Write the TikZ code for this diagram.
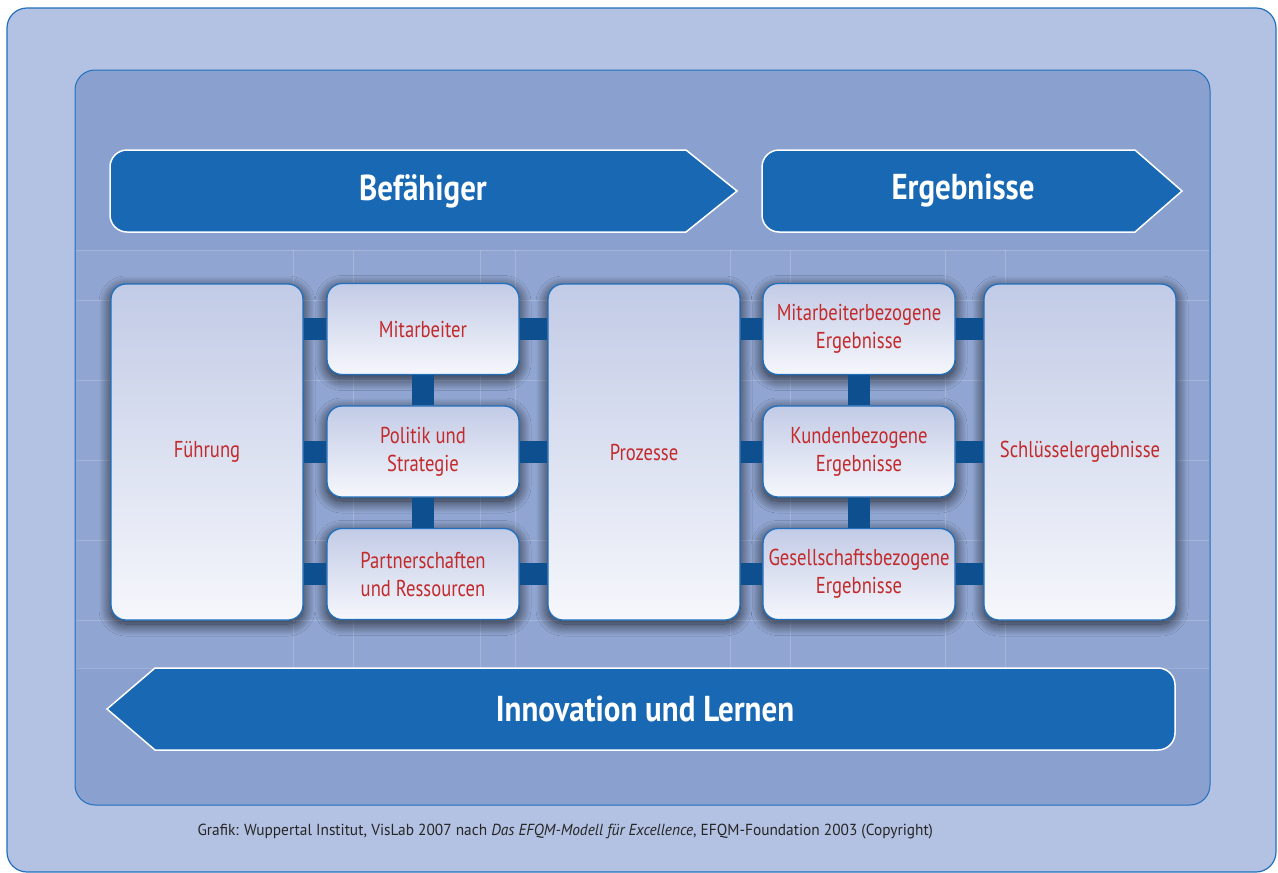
\documentclass[tikz,border=0pt]{standalone}
\usepackage{fontspec}
\setmainfont{PT Sans}
\newfontfamily\labfont{PT Sans}[FakeStretch=0.81]
\newfontfamily\headfont{PT Sans}[FakeStretch=0.86]
\newfontfamily\footfont{PT Sans}[FakeStretch=0.96]
\usetikzlibrary{shadows.blur}
\definecolor{outerbg}{HTML}{B3C1E2}
\definecolor{innerbg}{HTML}{8AA0CF}
\definecolor{framecol}{HTML}{2070BE}
\definecolor{arrowcol}{HTML}{1868B4}
\definecolor{barcol}{HTML}{0E4F8F}
\definecolor{labred}{HTML}{C22A2B}
\definecolor{boxtop}{HTML}{C2CBE6}
\definecolor{boxbot}{HTML}{F6F7FC}
\tikzset{
  arrowshape/.style={fill=arrowcol, draw=white, line width=1.5pt},
  arrowtext/.style={text=white, font=\headfont\bfseries\fontsize{36}{40}\selectfont},
  card/.style={draw=framecol, line width=1.3pt, rounded corners=15pt,
    top color=boxtop, bottom color=boxbot, minimum width=192pt,
    text=labred, align=center, font=\labfont\fontsize{23}{28}\selectfont, inner sep=0pt,
    blur shadow={shadow xshift=0pt, shadow yshift=-4pt, shadow blur radius=12pt,
      shadow blur steps=40, shadow opacity=80}},
  smallcard/.style={card, minimum height=91pt},
  bigcard/.style={card, minimum height=336pt},
  bar/.style={draw=barcol, line width=22pt},
}
\begin{document}
\begin{tikzpicture}[x=1pt,y=-1pt]
\useasboundingbox (0,0) rectangle (1278,873);
% frames
\draw[framecol, line width=1.2pt, fill=outerbg, rounded corners=20pt] (7,8) rectangle (1276,872);
\draw[framecol, line width=1pt, fill=innerbg, rounded corners=20pt] (75,70) rectangle (1210,805);
% band with faint grid
\fill[white, opacity=0.06] (76,250) rectangle (1209,668);
\foreach \yy in {250,668,300,380,460,540,620}
  \draw[white, opacity=0.18, line width=0.6pt] (76,\yy) -- (1209,\yy);
\foreach \xx in {293,353,480,515,730,790,945,1005}
  \draw[white, opacity=0.18, line width=0.6pt] (\xx,250) -- (\xx,668);
% top arrows
\draw[arrowshape] (737,191) -- (686,232) {[rounded corners=17pt] -- (110,232) -- (110,150)} -- (686,150) -- cycle;
\node[arrowtext] (bef) at (423,191) {Befähiger};
\draw[arrowshape] (1182,191) -- (1135,232) {[rounded corners=17pt] -- (762,232) -- (762,150)} -- (1135,150) -- cycle;
\node[arrowtext] (erg) at (963,191) {Ergebnisse};
% bottom arrow
\draw[arrowshape] (107,709) -- (155,668) {[rounded corners=17pt] -- (1175,668) -- (1175,750)} -- (155,750) -- cycle;
\node[arrowtext] (inno) at (645,709) {Innovation und Lernen};
% cards
\node[bigcard] (fuehr) at (207,452) {Führung};
\node[smallcard] (mit) at (423,329) {Mitarbeiter};
\node[smallcard] (pol) at (423,451.5) {Politik und\\Strategie};
\node[smallcard] (part) at (423,574) {Partnerschaften\\und Ressourcen};
\node[bigcard] (proz) at (644,452) {Prozesse};
\node[smallcard] (merg) at (859,329) {Mitarbeiterbezogene\\Ergebnisse};
\node[smallcard] (kerg) at (859,451.5) {Kundenbezogene\\Ergebnisse};
\node[smallcard] (gerg) at (859,574) {Gesellschaftsbezogene\\Ergebnisse};
\node[bigcard] (schl) at (1080,452) {Schlüsselergebnisse};
% connector bars
\foreach \n in {mit,pol,part}{
  \draw[bar] (\n.west -| fuehr.east) -- (\n.west);
  \draw[bar] (\n.east) -- (\n.east -| proz.west);
}
\foreach \n in {merg,kerg,gerg}{
  \draw[bar] (\n.west -| proz.east) -- (\n.west);
  \draw[bar] (\n.east) -- (\n.east -| schl.west);
}
\draw[bar] (mit.south) -- (pol.north);
\draw[bar] (pol.south) -- (part.north);
\draw[bar] (merg.south) -- (kerg.north);
\draw[bar] (kerg.south) -- (gerg.north);
% footer
\node[anchor=west, font=\footfont\fontsize{16}{19}\selectfont, text=black!85] (foot) at (194,832)
  {Grafik: Wuppertal Institut, VisLab 2007 nach \textit{Das EFQM-Modell für Excellence}, EFQM-Foundation 2003 (Copyright)};
\end{tikzpicture}
\end{document}
